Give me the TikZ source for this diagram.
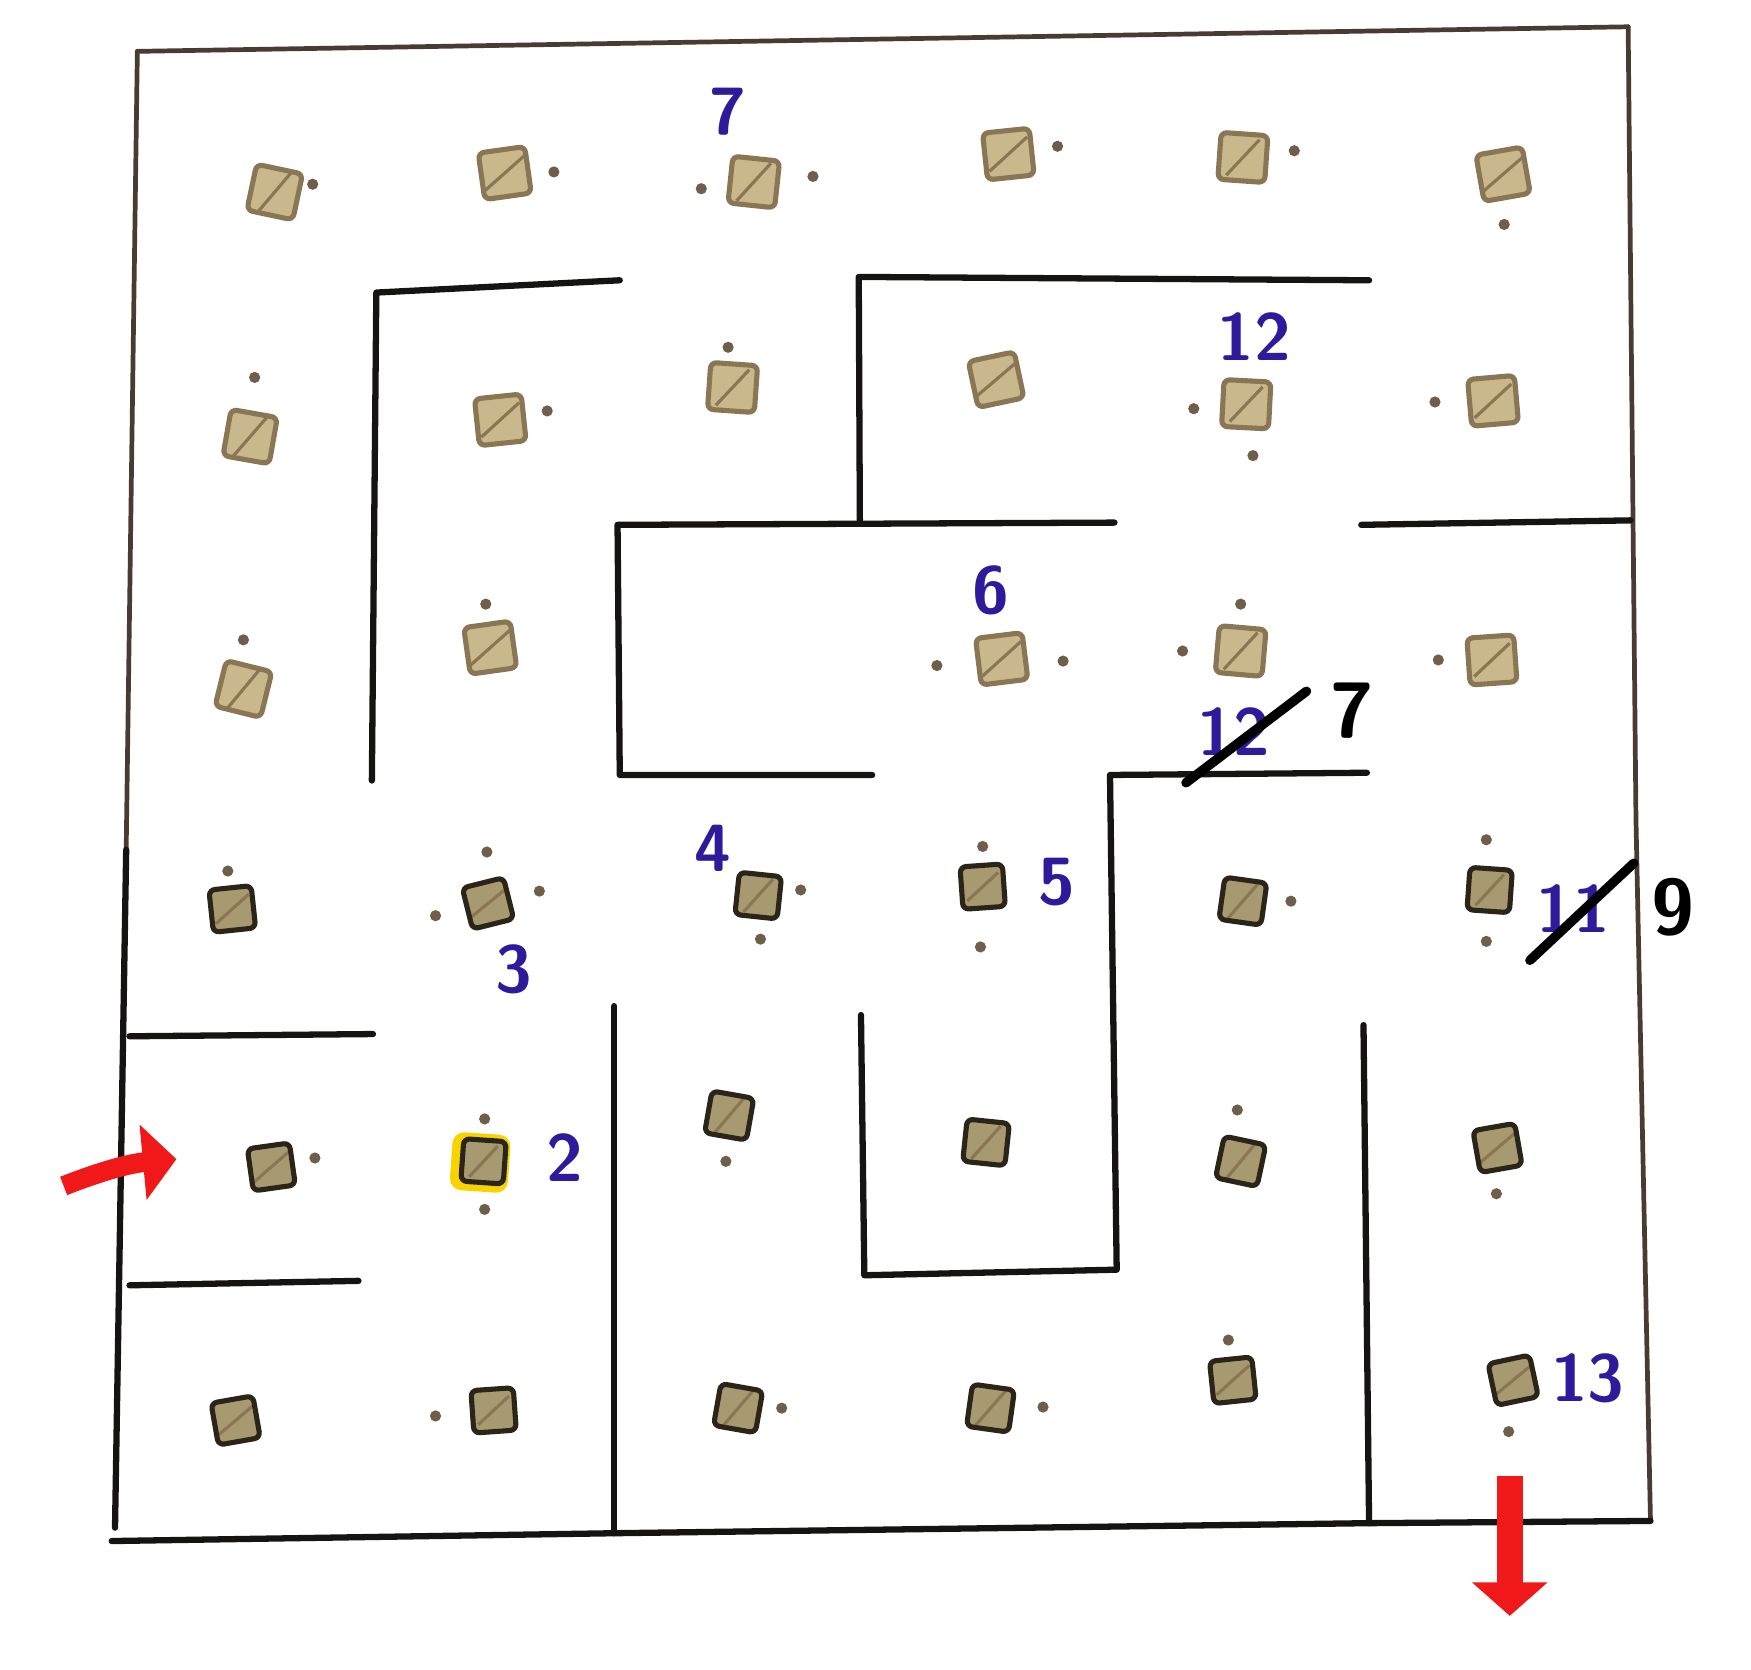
\documentclass[tikz,border=0pt]{standalone}
\usepackage{tikz}
\usetikzlibrary{arrows.meta,positioning}
\definecolor{wallink}{HTML}{161412}
\definecolor{frameink}{HTML}{4A3B30}
\definecolor{stonefill}{HTML}{C9B88C}
\definecolor{stoneedge}{HTML}{8A7655}
\definecolor{darkedge}{HTML}{2B2419}
\definecolor{darkfill}{HTML}{A89A70}
\definecolor{dotink}{HTML}{6E5E4A}
\definecolor{penblue}{HTML}{2E1A9A}
\definecolor{markred}{HTML}{F01818}
\definecolor{marker}{HTML}{F7D400}
\tikzset{
  wall/.style={draw=wallink, line width=1.6pt, line cap=round, line join=round},
  frame/.style={draw=frameink, line width=1.2pt, line cap=round},
  stone/.style={draw=stoneedge, fill=stonefill, line width=1.3pt, minimum size=0.42cm,
    inner sep=0pt, rounded corners=1.5pt,
    path picture={\draw[stoneedge, line width=0.8pt]
      ([shift={(2pt,2pt)}]path picture bounding box.south west) --
      ([shift={(-2pt,-2pt)}]path picture bounding box.north east);}},
  darkstone/.style={stone, draw=darkedge, fill=darkfill, minimum size=0.38cm},
  glow/.style={fill=marker, minimum size=0.52cm, inner sep=0pt, rounded corners=3pt},
  pebble/.style={circle, fill=dotink, inner sep=0pt, minimum size=0.1cm},
  num/.style={text=penblue, font=\sffamily\bfseries\fontsize{17}{17}\selectfont},
  fix/.style={text=black, font=\sffamily\bfseries\fontsize{20}{20}\selectfont},
  strike/.style={draw=black, line width=2.4pt, line cap=round},
  way/.style={draw=markred, line width=5pt, -{Triangle[length=0.3cm,width=0.66cm]}}
}
\begin{document}
\begin{tikzpicture}[x=0.01cm, y=-0.01cm]
\useasboundingbox (0,0) rectangle (1568,1495);

% outer frame
\draw[frame] (123,46) -- (1458,24);
\draw[frame] (1458,24) -- (1465,734) -- (1478,1362);
\draw[frame] (123,46) -- (113,761);
\draw[wall] (113,761) -- (103,1368);
\draw[wall] (100,1380) -- (550,1373) -- (1225,1364) -- (1478,1362);

% inner walls
\draw[wall] (555,251) -- (337,262) -- (333,699);
\draw[wall] (770,466) -- (769,248) -- (1226,251);
\draw[wall] (998,468) -- (553,470) -- (555,694) -- (781,694);
\draw[wall] (1219,470) -- (1460,466);
\draw[wall] (1224,692) -- (994,694) -- (1000,1137) -- (774,1142) -- (771,909);
\draw[wall] (550,901) -- (550,1373);
\draw[wall] (1221,918) -- (1226,1364);
\draw[wall] (116,928) -- (334,926);
\draw[wall] (116,1151) -- (321,1147);

% stones, upper rows
\foreach \name/\x/\y/\rot in {s11/246/172/-12, s12/452/155/8, s13/675/163/-6,
  s14/903/138/6, s15/1113/141/-4, s16/1346/156/10,
  s21/224/391/-10, s22/448/376/6, s23/656/347/-4, s24/892/340/12,
  s25/1116/362/-3, s26/1337/359/5,
  s31/218/617/-14, s32/439/580/8, s34/897/590/7, s35/1111/583/-5, s36/1336/591/4}
  \node[stone, rotate=\rot] (\name) at (\x,\y) {};

% stones, lower rows
\node[glow, rotate=-4] (halo) at (430,1041) {};
\foreach \name/\x/\y/\rot in {s41/208/814/6, s42/437/809/14, s43/679/802/-6,
  s44/880/794/4, s45/1113/807/-8, s46/1334/797/-4,
  s51/243/1045/8, s52/433/1040/-4, s53/653/999/-10, s54/883/1023/-6,
  s55/1111/1040/-12, s56/1341/1028/10,
  s61/211/1272/10, s62/442/1263/4, s63/661/1261/-10, s64/887/1261/-8,
  s65/1104/1236/6, s66/1355/1236/12}
  \node[darkstone, rotate=\rot] (\name) at (\x,\y) {};

% dots
\foreach \x/\y [count=\i] in {280/165, 496/154, 628/169, 728/158, 947/131, 1159/135,
  1347/201, 228/338, 490/368, 652/311, 1069/366, 1122/408, 1285/360,
  218/573, 435/541, 839/596, 952/592, 1059/583, 1111/541, 1288/591,
  204/780, 436/763, 390/820, 483/798, 717/797, 681/841, 880/758, 878/848,
  1156/807, 1331/752, 1331/843, 282/1037, 434/1002, 434/1083, 650/1040,
  1108/994, 1340/1069, 390/1268, 700/1261, 934/1260, 1100/1200, 1351/1282}
  \node[pebble] (p\i) at (\x,\y) {};

% numbers
\node[num] (n7) at (652,100) {7};
\node[num] (n12) at (1123,301) {12};
\node[num] (n6) at (887,529) {6};
\node[num] (n12old) at (1105,655) {12};
\coordinate (c12a) at (1062,701);
\coordinate (c12b) at (1170,619);
\draw[strike] (c12a) -- (c12b);
\node[fix] (n7new) at (1211,636) {7};
\node[num] (n4) at (638,760) {4};
\node[num] (n5) at (946,790) {5};
\node[num] (n3) at (460,868) {3};
\node[num] (n11old) at (1409,814) {11};
\coordinate (c11a) at (1370,860);
\coordinate (c11b) at (1463,773);
\draw[strike] (c11a) -- (c11b);
\node[fix] (n9) at (1498,812) {9};
\node[num] (n2) at (506,1037) {2};
\node[num] (n13) at (1422,1234) {13};

% way in and way out
\coordinate (intail) at (57,1062);
\coordinate (intip) at (158,1038);
\draw[way] (intail) to[bend left=8] (intip);
\coordinate (outtail) at (1352,1322);
\coordinate (outtip) at (1352,1447);
\draw[way, line width=6.5pt] (outtail) -- (outtip);
\end{tikzpicture}
\end{document}
